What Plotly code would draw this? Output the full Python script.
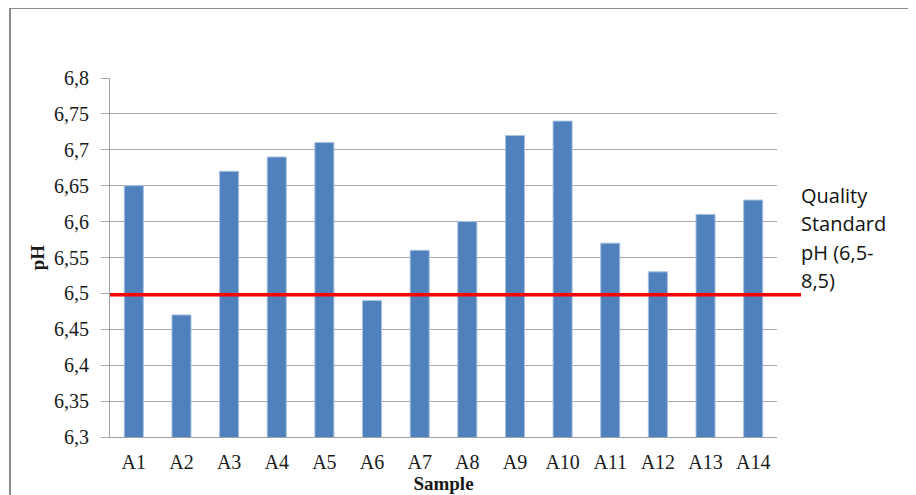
import plotly.graph_objects as go

samples = ["A1", "A2", "A3", "A4", "A5", "A6", "A7", "A8", "A9", "A10", "A11", "A12", "A13", "A14"]
ph_values = [6.65, 6.47, 6.67, 6.69, 6.71, 6.49, 6.56, 6.60, 6.72, 6.74, 6.57, 6.53, 6.61, 6.63]
standard_ph = 6.498
y_tickvals = [6.3, 6.35, 6.4, 6.45, 6.5, 6.55, 6.6, 6.65, 6.7, 6.75, 6.8]
y_ticktext = ["6,3", "6,35", "6,4", "6,45", "6,5", "6,55", "6,6", "6,65", "6,7", "6,75", "6,8"]
standard_label_lines = ["Quality", "Standard", "pH (6,5-", "8,5)"]

OFF = 8  # page body margin
W, H = 916, 495
pw, ph = 667, 359
L = 110 - OFF
T = 78 - OFF
R = W - L - pw
B = H - T - ph

def px_x(x):
    return (x - OFF - L) / pw

def px_y(y):
    return (T + ph - (y - OFF)) / ph

serif = "Liberation Serif"
fig = go.Figure()
fig.add_trace(go.Bar(
    x=samples, y=ph_values, width=0.4,
    marker=dict(color="#4F81BD", line=dict(color="#A9C0E0", width=1)),
))

fig.update_layout(
    width=W, height=H,
    margin=dict(l=L, r=R, t=T, b=B, autoexpand=False),
    paper_bgcolor="white", plot_bgcolor="white",
    showlegend=False,
    xaxis=dict(
        showgrid=False, showline=True, linecolor="#A0A0A0", linewidth=1,
        ticks="", ticklabelstandoff=7,
        tickfont=dict(family=serif, size=20, color="#1a1a1a"),
        title=dict(text="<b>Sample</b>", font=dict(family=serif, size=19, color="#1a1a1a"), standoff=0),
        range=[-0.5, 13.5], automargin=False,
    ),
    yaxis=dict(
        range=[6.3, 6.8], tickvals=y_tickvals, ticktext=y_ticktext,
        showgrid=True, gridcolor="#A6A6A6", gridwidth=1,
        showline=True, linecolor="#A0A0A0", linewidth=1,
        ticks="outside", ticklen=8, tickcolor="#A6A6A6", ticklabelstandoff=8,
        tickfont=dict(family=serif, size=20, color="#1a1a1a"),
        title=dict(text="<b>pH</b>", font=dict(family=serif, size=19, color="#1a1a1a"), standoff=4),
        zeroline=False, automargin=False,
    ),
)

# red standard line extending beyond plot area
fig.add_shape(type="line", xref="paper", yref="y",
              x0=0, x1=px_x(801), y0=standard_ph, y1=standard_ph,
              line=dict(color="#FF0000", width=3.5))

label_centers = [195, 223.5, 252, 280.5]
for txt, yc in zip(standard_label_lines, label_centers):
    fig.add_annotation(
        text=txt, xref="paper", yref="paper",
        x=px_x(799), y=px_y(yc), xanchor="left", yanchor="middle",
        showarrow=False, align="left",
        font=dict(family="Open Sans", size=20, color="#111111"),
    )

# outer frame
fig.add_shape(type="rect", xref="paper", yref="paper",
              x0=px_x(10), x1=px_x(940), y0=px_y(8), y1=px_y(520),
              line=dict(color="#8C8C8C", width=2), fillcolor="rgba(0,0,0,0)", layer="below")

fig.write_html("out.html")
